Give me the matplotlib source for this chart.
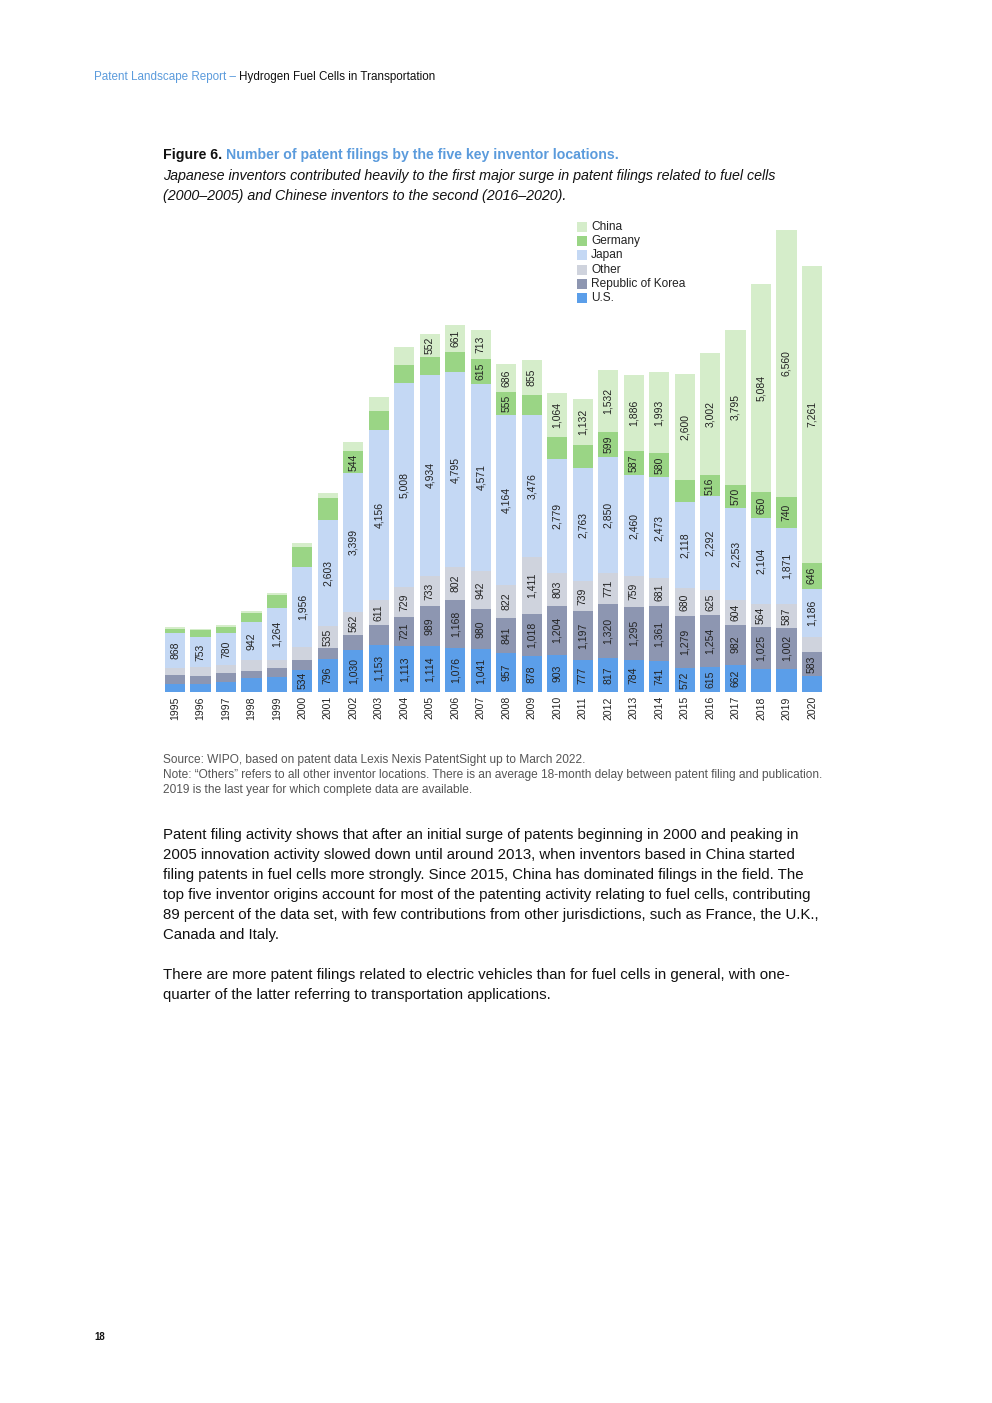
import matplotlib
matplotlib.use("Agg")
import matplotlib.pyplot as plt
from matplotlib.patches import Rectangle

plt.rcParams["font.family"] = ["Liberation Sans", "DejaVu Sans"]

W, H = 992, 1403

years = list(range(1995, 2021))
series = ["U.S.", "Republic of Korea", "Other", "Japan", "Germany", "China"]

us = [200, 180, 245, 326, 367, 534, 796, 1030, 1153, 1113, 1114, 1076, 1041,
      957, 878, 903, 777, 817, 784, 741, 572, 615, 662, 555, 560, 383]
korea = [210, 205, 220, 188, 204, 245, 270, 367, 490, 721, 989, 1168, 980,
         841, 1018, 1204, 1197, 1320, 1295, 1361, 1279, 1254, 982, 1025, 1002, 583]
other = [163, 210, 188, 261, 204, 326, 535, 562, 611, 729, 733, 802, 942,
         822, 1411, 803, 739, 771, 759, 681, 680, 625, 604, 564, 587, 367]
japan = [868, 753, 780, 942, 1264, 1956, 2603, 3399, 4156, 5008, 4934, 4795, 4571,
         4164, 3476, 2779, 2763, 2850, 2460, 2473, 2118, 2292, 2253, 2104, 1871, 1186]
germany = [106, 155, 163, 212, 326, 473, 531, 544, 457, 433, 433, 477, 615,
           555, 490, 555, 571, 599, 587, 580, 540, 516, 570, 650, 740, 646]
china = [40, 40, 40, 40, 49, 98, 122, 220, 343, 433, 552, 661, 713,
         686, 855, 1064, 1132, 1532, 1886, 1993, 2600, 3002, 3795, 5084, 6560, 7261]

# years whose segment carries no value label in the original
hidden = {
    "U.S.": [1995, 1996, 1997, 1998, 1999, 2018, 2019, 2020],
    "Republic of Korea": list(range(1995, 2004)),
    "Other": [1995, 1996, 1997, 1998, 1999, 2000, 2020],
    "Japan": [],
    "Germany": [1995, 1996, 1997, 1998, 1999, 2000, 2001, 2003, 2004, 2005, 2006,
                2009, 2010, 2011, 2015],
    "China": list(range(1995, 2005)),
}

colors = {
    "U.S.": "#5b9ee9",
    "Republic of Korea": "#8d96b1",
    "Other": "#cfd3dd",
    "Japan": "#c4d8f4",
    "Germany": "#9ad585",
    "China": "#d5edca",
}

BLUE = "#5b9bdc"


def fx(x):
    return x / W


def fy(y):
    return 1 - y / H


fig = plt.figure(figsize=(W / 100, H / 100), dpi=100)
fig.patch.set_facecolor("white")

# chart area in pixels
left, right, base, top = 162.3, 824.7, 691.7, 201.7
ax = fig.add_axes([fx(left), fy(base), fx(right - left), (base - top) / H])
ymax = (base - top) * 24.5
ax.set_xlim(-0.5, len(years) - 0.5)
ax.set_ylim(0, ymax)
ax.axis("off")

data = {"U.S.": us, "Republic of Korea": korea, "Other": other,
        "Japan": japan, "Germany": germany, "China": china}
xs = list(range(len(years)))
bottom = [0] * len(years)
for name in series:
    vals = data[name]
    ax.bar(xs, vals, bottom=bottom, width=0.79, color=colors[name], linewidth=0)
    for i, v in enumerate(vals):
        if years[i] in hidden[name]:
            continue
        ax.text(xs[i], bottom[i] + v / 2, f"{v:,}", rotation=90, ha="center",
                va="center", fontsize=7.5, color="#222222")
    bottom = [b + v for b, v in zip(bottom, vals)]

for i, yr in enumerate(years):
    ax.text(xs[i], -110, str(yr), rotation=90, ha="center", va="top",
            fontsize=7.5, color="#222222")

# legend (top to bottom: China ... U.S.)
for k, name in enumerate(reversed(series)):
    yc = 227 + k * 14.2
    fig.add_artist(Rectangle((fx(577), fy(yc + 5)), fx(10), 10 / H,
                             transform=fig.transFigure, color=colors[name], lw=0))
    fig.text(fx(591), fy(yc), name, fontsize=8.6, va="center", ha="left",
             color="#222222")

renderer = fig.canvas.get_renderer()


def run_text(x, y, parts, **kw):
    for s, extra in parts:
        t = fig.text(fx(x), fy(y), s, va="center", ha="left", **kw, **extra)
        x += t.get_window_extent(renderer).width


run_text(94, 77, [("Patent Landscape Report \u2013 ", {"color": BLUE}),
                  ("Hydrogen Fuel Cells in Transportation", {"color": "#111111"})],
         fontsize=8.4)

run_text(163, 155, [("Figure 6. ", {"color": "#111111"}),
                    ("Number of patent filings by the five key inventor locations.",
                     {"color": BLUE})],
         fontsize=10.2, fontweight="bold")

fig.text(fx(163), fy(176), "Japanese inventors contributed heavily to the first major "
         "surge in patent filings related to fuel cells", fontsize=10.25, style="italic",
         va="center", color="#111111")
fig.text(fx(163), fy(196), "(2000\u20132005) and Chinese inventors to the second "
         "(2016\u20132020).", fontsize=10.25, style="italic", va="center", color="#111111")

notes = [
    "Source: WIPO, based on patent data Lexis Nexis PatentSight up to March 2022.",
    "Note: \u201cOthers\u201d refers to all other inventor locations. There is an average "
    "18-month delay between patent filing and publication.",
    "2019 is the last year for which complete data are available.",
]
for k, s in enumerate(notes):
    fig.text(fx(163), fy(760 + k * 15), s, fontsize=8.6, va="center",
             color="#555555")

body = [
    (835, "Patent filing activity shows that after an initial surge of patents "
          "beginning in 2000 and peaking in"),
    (855, "2005 innovation activity slowed down until around 2013, when inventors "
          "based in China started"),
    (875, "filing patents in fuel cells more strongly. Since 2015, China has dominated "
          "filings in the field. The"),
    (895, "top five inventor origins account for most of the patenting activity "
          "relating to fuel cells, contributing"),
    (915, "89 percent of the data set, with few contributions from other "
          "jurisdictions, such as France, the U.K.,"),
    (935, "Canada and Italy."),
    (975, "There are more patent filings related to electric vehicles than for fuel "
          "cells in general, with one-"),
    (995, "quarter of the latter referring to transportation applications."),
]
for y, s in body:
    fig.text(fx(163), fy(y), s, fontsize=10.8, va="center", color="#111111")

fig.text(fx(94), fy(1337), "18", fontsize=7, fontweight="bold", va="center",
         color="#111111")

fig.savefig("out.png", dpi=100, facecolor="white")
